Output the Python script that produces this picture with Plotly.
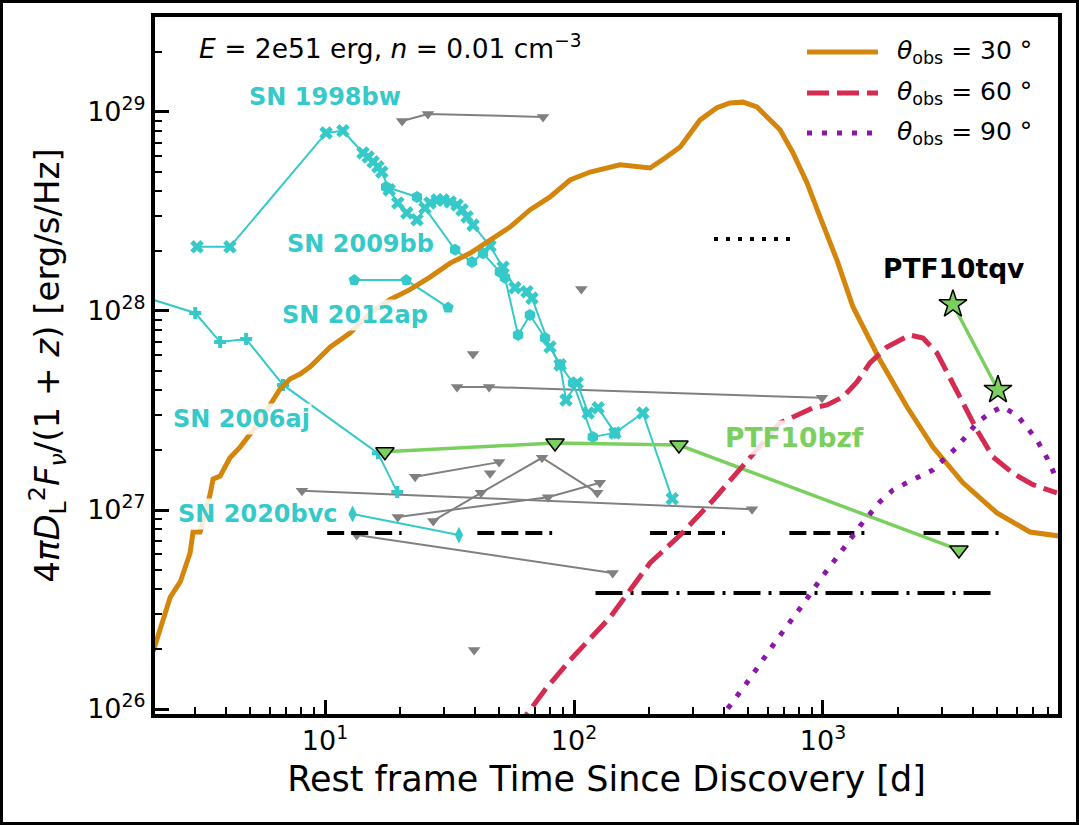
import plotly.graph_objects as go

# ---------------- data ----------------
theta30_t = [2.04, 2.24, 2.39, 2.62, 2.87, 2.95, 3.15, 3.45, 3.55, 3.79, 4.15, 4.56, 5.0, 5.48, 6.01, 6.6, 7.23, 7.94,
             8.71, 10.5, 12.6, 15.2, 18.2, 21.9, 26.4, 31.8, 38.2, 46.0, 55.3, 66.5, 80.1, 96.4, 116, 153, 202, 232,
             267, 321, 375, 423, 477, 543, 612, 672, 758, 863, 973, 1138, 1319, 1694, 2174, 2766, 3650, 5000, 6780, 8870]
theta30_L = [1.95e26, 2.77e26, 3.65e26, 4.35e26, 6.08e26, 7.75e26, 7.75e26, 1.19e27, 1.43e27, 1.48e27, 1.83e27,
             2.07e27, 2.41e27, 2.80e27, 3.37e27, 4.06e27, 4.55e27, 4.82e27, 5.24e27, 6.59e27, 7.75e27, 9.77e27,
             1.14e28, 1.28e28, 1.48e28, 1.74e28, 1.95e28, 2.27e28, 2.64e28, 3.22e28, 3.74e28, 4.55e28, 4.99e28,
             5.42e28, 5.23e28, 5.87e28, 6.67e28, 9.12e28, 1.05e29, 1.11e29, 1.12e29, 1.06e29, 9.12e28, 8.13e28,
             6.22e28, 4.40e28, 2.97e28, 1.80e28, 1.05e28, 5.67e27, 3.30e27, 2.07e27, 1.37e27, 9.66e26, 7.75e26, 7.40e26]

theta60_t = [57.9, 76.5, 96.4, 140, 202, 267, 362, 495, 672, 912, 1038, 1203, 1370, 1544, 1807, 2235, 2521, 2870,
             3236, 3650, 4153, 4815, 5794, 6970, 8700]
theta60_L = [7.8e25, 1.25e26, 1.76e26, 2.90e26, 5.42e26, 7.48e26, 1.12e27, 1.78e27, 2.74e27, 3.26e27, 3.37e27,
             3.70e27, 4.40e27, 5.48e27, 6.59e27, 7.57e27, 7.31e27, 6.15e27, 4.66e27, 3.45e27, 2.52e27, 1.85e27,
             1.53e27, 1.34e27, 1.22e27]

theta90_t = [379, 423, 504, 648, 839, 991, 1181, 1408, 1694, 1910, 2297, 2766, 3034, 3453, 3787, 4153, 4689, 5234,
             6013, 6596, 7234, 7937, 8710]
theta90_L = [8.8e25, 1.04e26, 1.40e26, 2.20e26, 3.41e26, 4.61e26, 6.15e26, 8.31e26, 1.10e27, 1.26e27, 1.42e27,
             1.59e27, 1.78e27, 2.07e27, 2.38e27, 2.74e27, 3.07e27, 3.30e27, 3.00e27, 2.61e27, 2.25e27, 1.83e27, 1.42e27]

sn1998bw_t = [3.06, 4.15, 10.1, 11.8, 14.2, 14.9, 15.6, 16.3, 16.9, 18.1, 19.6, 21.3, 23.4, 25.2, 26.4, 28.2, 29.8,
              31.8, 33.9, 35.5, 37.2, 39.3, 46.0, 51.9, 57.9, 64.7, 67.8, 80.1, 87.9, 92.9, 103, 114, 125, 146, 189, 248]
sn1998bw_L = [2.10e28, 2.10e28, 7.84e28, 8.04e28, 6.22e28, 5.94e28, 5.61e28, 5.30e28, 4.99e28, 4.06e28, 3.49e28,
              3.11e28, 2.87e28, 3.29e28, 3.49e28, 3.61e28, 3.61e28, 3.53e28, 3.41e28, 3.22e28, 2.97e28, 2.70e28,
              2.12e28, 1.66e28, 1.31e28, 1.25e28, 1.16e28, 6.59e27, 5.36e27, 3.57e27, 4.35e27, 3.07e27, 3.26e27,
              2.44e27, 3.07e27, 1.14e27]

sn2009bb_t = [17.6, 23.4, 33.3, 38.9, 43.1, 50.4, 52.8, 59.6, 66.5, 76.5, 87.9, 99.1, 119, 146]
sn2009bb_L = [4.20e28, 3.74e28, 2.03e28, 1.76e28, 1.95e28, 1.57e28, 1.47e28, 7.57e27, 9.54e27, 7.31e27, 5.36e27,
              4.35e27, 2.33e27, 2.44e27]

sn2012ap_t = [13.1, 21.2, 31.2]
sn2012ap_L = [1.43e28, 1.43e28, 1.04e28]

sn2006aj_t = [1.4, 3.01, 3.79, 4.82, 6.78, 16.3, 19.5]
sn2006aj_L = [1.32e28, 9.77e27, 6.98e27, 7.23e27, 4.25e27, 1.93e27, 1.23e27]

sn2020bvc_t = [12.9, 34.5]
sn2020bvc_L = [9.55e26, 7.48e26]

ptf10bzf_t = [17.4, 83.9, 264, 3516]
ptf10bzf_L = [1.96e27, 2.17e27, 2.12e27, 6.30e26]

ptf10tqv_t = [3327, 5045]
ptf10tqv_L = [1.08e28, 4.01e27]

# gray upper limits (each sub-list is one connected object)
gray_t = [[20.4, 25.9, 75.1], [107], [39.3], [33.9, 45.6, 991], [23.0, 50.0], [46.0],
          [27.2, 42.3, 74.4, 124], [19.6, 78.6, 127], [8.08, 519], [13.4, 143], [39.7]]
gray_L = [[9.01e28, 9.77e28, 9.44e28], [1.29e28], [6.08e27], [4.15e27, 4.15e27, 3.66e27], [1.47e27, 1.74e27],
          [1.53e27], [8.81e26, 1.22e27, 1.83e27, 1.22e27], [9.23e26, 1.16e27, 1.37e27], [1.25e27, 1.01e27],
          [7.48e26, 4.82e26], [1.98e26]]

# black sensitivity lines
dotted_t = [365, 737]
dotted_L = 2.30e28
seg_t = [[10.2, 20.3], [40.9, 81.7], [202, 405], [733, 1475], [2535, 5130]]
seg_L = 7.66e26
dashdot_t = [122, 5045]
dashdot_L = 3.83e26

legend_labels = ["<i>θ</i><sub>obs</sub> = 30 °", "<i>θ</i><sub>obs</sub> = 60 °", "<i>θ</i><sub>obs</sub> = 90 °"]
x_tickvals = [10, 100, 1000]
x_ticktext = ["10<sup>1</sup>", "10<sup>2</sup>", "10<sup>3</sup>"]
y_tickvals = [1e26, 1e27, 1e28, 1e29]
y_ticktext = ["10<sup>26</sup>", "10<sup>27</sup>", "10<sup>28</sup>", "10<sup>29</sup>"]

# ---------------- styling ----------------
W, H = 1079, 825
ML, MR, MT, MB = 155, 21, 17, 111
PW, PH = W - ML - MR, H - MT - MB
FONT = "DejaVu Sans"
CYAN = "#36C9C9"
GREEN = "#7BCF5E"
GRAY = "#808080"
ORANGE = "#D4850B"
RED = "#D62B50"
PURPLE = "#8C16A8"


def px_x(x):
    return (x - ML) / PW


def px_y(y):
    return (H - MB - y) / PH


fig = go.Figure()

# gray limits
for tt, ll in zip(gray_t, gray_L):
    fig.add_trace(go.Scatter(x=tt, y=ll, mode="lines+markers", line=dict(color=GRAY, width=2),
                             marker=dict(symbol="triangle-down", size=11, color=GRAY), showlegend=False))

# black sensitivity lines
fig.add_trace(go.Scatter(x=dotted_t, y=[dotted_L] * 2, mode="lines",
                         line=dict(color="black", width=4, dash="4px,8px"), showlegend=False))
for tt in seg_t:
    fig.add_trace(go.Scatter(x=tt, y=[seg_L] * 2, mode="lines",
                             line=dict(color="black", width=4, dash="17px,7px,17px,7px,17px,7px,3px,300px"),
                             showlegend=False))
fig.add_trace(go.Scatter(x=dashdot_t, y=[dashdot_L] * 2, mode="lines",
                         line=dict(color="black", width=4, dash="27px,8px,3px,8px"), showlegend=False))

# cyan SNe
cyan_sets = [(sn1998bw_t, sn1998bw_L, "x", 12), (sn2009bb_t, sn2009bb_L, "hexagon", 12),
             (sn2012ap_t, sn2012ap_L, "pentagon", 12), (sn2006aj_t, sn2006aj_L, "cross", 10),
             (sn2020bvc_t, sn2020bvc_L, "diamond-tall", 12)]
for tt, ll, sym, sz in cyan_sets:
    fig.add_trace(go.Scatter(x=tt, y=ll, mode="lines+markers", line=dict(color=CYAN, width=2),
                             marker=dict(symbol=sym, size=sz, color=CYAN), showlegend=False))

# PTF objects
fig.add_trace(go.Scatter(x=ptf10bzf_t, y=ptf10bzf_L, mode="lines+markers", line=dict(color=GREEN, width=3.5),
                         marker=dict(symbol="triangle-down", size=16, color=GREEN, line=dict(color="black", width=1.5)),
                         showlegend=False))
fig.add_trace(go.Scatter(x=ptf10tqv_t, y=ptf10tqv_L, mode="lines+markers", line=dict(color=GREEN, width=3.5),
                         marker=dict(symbol="star", size=21, color=GREEN, line=dict(color="black", width=1.5)),
                         showlegend=False))

# model curves
fig.add_trace(go.Scatter(x=theta30_t, y=theta30_L, mode="lines", line=dict(color=ORANGE, width=5),
                         name=legend_labels[0], showlegend=False))
fig.add_trace(go.Scatter(x=theta60_t, y=theta60_L, mode="lines", line=dict(color=RED, width=5, dash="22px,8px"),
                         name=legend_labels[1], showlegend=False))
fig.add_trace(go.Scatter(x=theta90_t, y=theta90_L, mode="lines", line=dict(color=PURPLE, width=5, dash="5px,10px"),
                         name=legend_labels[2], showlegend=False))

shapes = []
annotations = []

# manual legend
leg_styles = [(ORANGE, "solid", 52), (RED, "22px,8px", 93), (PURPLE, "5px,10px", 133)]
for (col, dash, yy), lab in zip(leg_styles, legend_labels):
    shapes.append(dict(type="line", xref="paper", yref="paper", x0=px_x(807), x1=px_x(878), y0=px_y(yy),
                       y1=px_y(yy), line=dict(color=col, width=5, dash=dash)))
    annotations.append(dict(xref="paper", yref="paper", x=px_x(895), y=px_y(yy), text=lab, showarrow=False,
                            xanchor="left", yanchor="middle", font=dict(family=FONT, size=25, color="black")))

# labels
labels = [("SN 1998bw", 325, 97, CYAN, 24), ("SN 2009bb", 360, 244, CYAN, 24), ("SN 2012ap", 355, 315, CYAN, 24),
          ("SN 2006aj", 241, 419, CYAN, 24), ("SN 2020bvc", 258, 514, CYAN, 24),
          ("PTF10bzf", 794, 437, GREEN, 26.5), ("PTF10tqv", 953, 268, "black", 26.5)]
for txt, xx, yy, col, sz in labels:
    annotations.append(dict(xref="paper", yref="paper", x=px_x(xx), y=px_y(yy), text="<b>%s</b>" % txt,
                            showarrow=False, xanchor="center", yanchor="middle",
                            bgcolor="rgba(255,255,255,0.85)", borderpad=1,
                            font=dict(family=FONT, size=sz, color=col)))

annotations.append(dict(xref="paper", yref="paper", x=px_x(197), y=px_y(47),
                        text="<i>E</i> = 2e51 erg, <i>n</i> = 0.01 cm<sup>−3</sup>", showarrow=False,
                        xanchor="left", yanchor="middle", font=dict(family=FONT, size=26.5, color="black")))

# outer frame
shapes.append(dict(type="rect", xref="paper", yref="paper", x0=px_x(1.5), x1=px_x(W - 1.5), y0=px_y(H - 1.5),
                   y1=px_y(1.5), line=dict(color="black", width=3), fillcolor="rgba(0,0,0,0)", layer="above"))

minor_x = [m * 10.0 ** e for e in range(0, 4) for m in range(2, 10)]
minor_y = [m * 10.0 ** e for e in range(25, 30) for m in range(2, 10)]

fig.update_layout(
    width=W, height=H, margin=dict(l=ML, r=MR, t=MT, b=MB),
    paper_bgcolor="white", plot_bgcolor="white",
    font=dict(family=FONT, color="black"),
    shapes=shapes, annotations=annotations, showlegend=False,
    xaxis=dict(type="log", range=[0.317, 3.944], showgrid=False, zeroline=False,
               showline=True, linecolor="black", linewidth=4, mirror=True,
               ticks="inside", ticklen=14, tickwidth=3, tickcolor="black",
               tickmode="array", tickvals=x_tickvals, ticktext=x_ticktext,
               tickfont=dict(family=FONT, size=27),
               minor=dict(tickmode="array", tickvals=minor_x, ticks="inside", ticklen=7, tickwidth=2,
                          tickcolor="black", showgrid=False),
               title=dict(text="Rest frame Time Since Discovery [d]", font=dict(family=FONT, size=35), standoff=12)),
    yaxis=dict(type="log", range=[25.975, 29.477], showgrid=False, zeroline=False,
               showline=True, linecolor="black", linewidth=4, mirror=True,
               ticks="inside", ticklen=14, tickwidth=3, tickcolor="black",
               tickmode="array", tickvals=y_tickvals, ticktext=y_ticktext,
               tickfont=dict(family=FONT, size=27),
               minor=dict(tickmode="array", tickvals=minor_y, ticks="inside", ticklen=7, tickwidth=2,
                          tickcolor="black", showgrid=False),
               title=dict(text="4<i>πD</i><sub>L</sub><sup>2</sup><i>F</i><sub><i>ν</i></sub>/(1 + <i>z</i>) [erg/s/Hz]",
                          font=dict(family=FONT, size=34), standoff=18)),
)

fig.write_html("out.html", config={"displayModeBar": False},
               post_script="document.body.style.margin='0px';document.body.style.overflow='hidden';")
